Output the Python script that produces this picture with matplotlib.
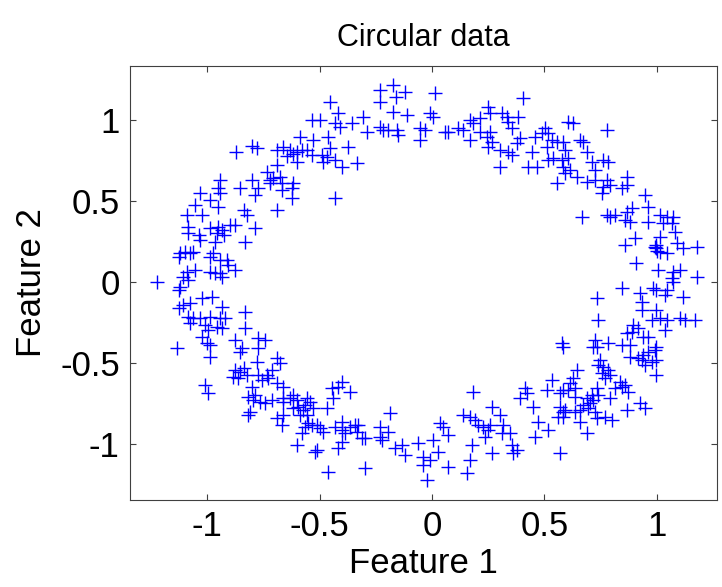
import matplotlib
matplotlib.use("Agg")
import matplotlib.pyplot as plt

plt.rcParams['font.family'] = ['Liberation Sans', 'DejaVu Sans']

pts = [
# upper-left
(-0.871,0.804),(-0.801,0.84),(-0.779,0.825),(-0.69,0.815),(-0.942,0.63),(-0.95,0.578),(-0.942,0.547),
(-0.853,0.578),(-0.801,0.63),(-0.772,0.578),(-0.787,0.537),(-0.735,0.681),(-0.72,0.63),(-0.705,0.64),
(-0.69,0.722),(-0.676,0.65),(-0.72,0.609),(-1.031,0.547),(-1.053,0.475),(-0.987,0.506),(-0.95,0.465),
(-0.838,0.444),(-0.69,0.444),(-0.668,0.609),(-0.668,0.567),
# top-left
(-0.231,1.185),(-0.172,1.216),(-0.12,1.175),(-0.231,1.113),(-0.16,1.14),(-0.453,1.113),(-0.416,1.041),
(-0.535,1.0),(-0.498,1.0),(-0.431,0.98),(-0.409,0.959),(-0.357,0.98),(-0.305,1.021),(-0.29,0.928),
(-0.231,0.959),(-0.217,0.938),(-0.172,1.051),(-0.113,1.031),(-0.053,0.949),(-0.053,0.876),(-0.157,0.938),
(-0.151,0.907),(-0.194,0.938),(-0.587,0.897),(-0.528,0.876),(-0.461,0.897),(-0.372,0.835),(-0.453,0.825),
(-0.49,0.784),(-0.468,0.774),(-0.483,0.743),(-0.431,0.753),(-0.401,0.712),(-0.335,0.733),(-0.557,0.815),
(-0.579,0.815),(-0.601,0.80),(-0.631,0.815),(-0.661,0.835),(-0.535,0.784),(-0.601,0.743),(-0.617,0.79),
(-0.646,0.78),(-0.616,0.609),(-0.624,0.579),(-0.624,0.517),(-0.431,0.517),
# top-right
(0.013,1.165),(0.406,1.134),(-0.009,1.041),(0.006,1.021),(-0.031,0.938),(0.058,0.928),(0.073,0.928),
(0.117,0.949),(0.139,0.938),(0.169,0.999),(0.184,0.98),(0.169,0.876),(0.213,1.01),(0.25,1.08),(0.258,1.04),
(0.213,0.928),(0.243,0.897),(0.258,0.928),(0.265,0.866),(0.25,0.835),(0.31,1.04),(0.332,1.021),(0.339,0.99),
(0.354,0.949),(0.384,1.021),(0.302,0.815),(0.339,0.805),(0.354,0.784),(0.302,0.712),(0.391,0.886),
(0.376,0.855),(0.443,0.804),(0.428,0.712),(0.465,0.712),(0.458,0.897),(0.488,0.917),(0.502,0.949),
(0.517,0.917),(0.532,0.876),(0.554,0.866),(0.51,0.835),(0.517,0.753),(0.539,0.764),(0.554,0.609),
# upper-right
(0.606,0.99),(0.628,0.98),(0.776,0.938),(0.658,0.876),(0.672,0.866),(0.583,0.866),(0.591,0.815),
(0.606,0.764),(0.687,0.804),(0.576,0.753),(0.583,0.712),(0.591,0.67),(0.613,0.691),(0.71,0.743),
(0.724,0.691),(0.761,0.753),(0.783,0.743),(0.643,0.65),(0.687,0.619),(0.724,0.63),(0.761,0.589),
(0.776,0.63),(0.791,0.598),(0.865,0.65),(0.843,0.578),(0.865,0.598),(0.754,0.547),(0.947,0.537),
(0.961,0.465),(0.888,0.455),
# left
(-1.09,0.414),(-1.024,0.414),(-0.824,0.414),(-1.083,0.341),(-1.083,0.3),(-1.038,0.29),(-1.031,0.259),
(-0.987,0.331),(-0.95,0.341),(-0.935,0.321),(-0.898,0.352),(-0.876,0.352),(-0.957,0.3),(-0.964,0.249),
(-0.927,0.29),(-0.787,0.331),(-0.831,0.249),(-1.12,0.177),(-1.098,0.187),(-1.076,0.177),(-1.061,0.187),
(-1.127,0.156),(-0.987,0.156),(-0.972,0.177),(-0.942,0.136),(-0.913,0.136),(-0.905,0.105),(-0.876,0.074),
(-1.09,0.064),(-1.053,0.074),(-1.105,0.033),(-1.083,0.012),(-1.12,-0.029),(-0.987,0.064),(-0.964,0.054),
(-0.942,0.054),(-0.935,0.033),(-1.224,0.002),(-1.127,-0.049),(-1.024,-0.101),(-0.979,-0.09),(-0.935,-0.152),
(-1.127,-0.162),(-1.105,-0.142),(-1.076,-0.132),(-1.083,-0.214),(-1.076,-0.255),(-1.061,-0.224),
(-1.031,-0.224),(-0.987,-0.214),(-0.942,-0.224),(-0.92,-0.224),(-1.009,-0.265),(-0.994,-0.296),
(-1.024,-0.338),(-1.001,-0.378),(-0.987,-0.389),(-0.957,-0.276),(-0.935,-0.286),(-0.831,-0.183),
(-0.831,-0.286),(-0.876,-0.358),(-0.772,-0.348),(-0.742,-0.358),(-1.135,-0.409),
# right
(0.665,0.403),(0.776,0.414),(0.791,0.403),(0.813,0.414),(0.858,0.383),(0.88,0.372),(0.865,0.434),
(0.961,0.372),(1.013,0.414),(1.043,0.403),(1.072,0.403),(1.028,0.362),(1.065,0.362),(1.08,0.31),
(1.087,0.239),(1.117,0.208),(1.176,0.218),(1.013,0.28),(0.998,0.208),(1.013,0.187),(1.043,0.177),
(0.902,0.27),(0.858,0.228),(0.909,0.115),(1.006,0.074),(1.072,0.064),(1.102,0.074),(1.065,0.023),
(1.072,0.002),(1.176,0.033),(0.843,-0.039),(0.924,-0.07),(0.984,-0.039),(0.998,-0.049),(1.043,-0.049),
(1.036,-0.08),(1.117,-0.09),(0.732,-0.101),(0.932,-0.121),(0.932,-0.173),(0.998,-0.173),(0.739,-0.235),
(0.976,-0.235),(1.013,-0.224),(1.043,-0.235),(1.036,-0.296),(1.102,-0.224),(1.124,-0.235),(1.169,-0.235),
(0.888,-0.306),(0.895,-0.265),(0.917,-0.286),(0.865,-0.317),(0.939,-0.338),(0.961,-0.338),(0.576,-0.378),
(0.724,-0.358),(0.783,-0.378),(0.732,-0.399),(0.843,-0.389),(0.88,-0.389),(0.998,-0.399),
(0.998,0.23),(1.0,0.19),(0.99,0.215),
# lower-left
(-0.987,-0.461),(-0.853,-0.43),(-0.846,-0.409),(-0.772,-0.409),(-0.779,-0.492),(-0.69,-0.471),
(-0.676,-0.502),(-0.876,-0.543),(-0.853,-0.553),(-0.838,-0.533),(-0.883,-0.585),(-0.861,-0.594),
(-0.824,-0.574),(-0.772,-0.574),(-0.735,-0.574),(-0.713,-0.543),(-0.757,-0.605),(-0.728,-0.594),
(-1.009,-0.636),(-0.994,-0.687),(-0.801,-0.646),(-0.787,-0.698),(-0.794,-0.728),(-0.816,-0.708),
(-0.765,-0.739),(-0.742,-0.749),(-0.713,-0.728),(-0.661,-0.739),(-0.809,-0.8),(-0.816,-0.821),
(-0.69,-0.625),(-0.69,-0.841),(-0.668,-0.882),(-0.661,-0.821),
# bottom-left
(-0.446,-0.656),(-0.416,-0.646),(-0.401,-0.615),(-0.364,-0.677),(-0.439,-0.718),(-0.661,-0.646),
(-0.661,-0.718),(-0.631,-0.718),(-0.616,-0.698),(-0.601,-0.728),(-0.557,-0.718),(-0.542,-0.739),
(-0.564,-0.758),(-0.616,-0.78),(-0.594,-0.77),(-0.572,-0.79),(-0.527,-0.78),(-0.468,-0.78),
(-0.587,-0.821),(-0.557,-0.821),(-0.55,-0.872),(-0.535,-0.882),(-0.513,-0.882),(-0.564,-0.893),
(-0.579,-0.934),(-0.498,-0.903),(-0.483,-0.924),(-0.431,-0.893),(-0.401,-0.862),(-0.401,-0.914),
(-0.387,-0.934),(-0.401,-0.986),(-0.416,-1.026),(-0.364,-0.893),(-0.342,-0.882),(-0.327,-0.882),
(-0.335,-0.924),(-0.313,-0.965),(-0.298,-0.965),(-0.231,-0.893),(-0.231,-0.955),(-0.224,-0.976),
(-0.194,-0.924),(-0.187,-0.81),(-0.601,-1.006),(-0.513,-1.037),(-0.52,-1.047),(-0.461,-1.171),
(-0.298,-1.15),(-0.164,-1.026),(-0.135,-1.006),(-0.12,-1.068),(-0.061,-0.996),(-0.039,-1.078),
(-0.039,-1.129),
# bottom-right
(0.584,-0.399),(0.532,-0.605),(0.51,-0.667),(0.569,-0.687),(0.413,-0.656),(0.391,-0.718),(0.45,-0.77),
(0.421,-0.687),(0.184,-0.677),(0.265,-0.77),(0.302,-0.821),(0.139,-0.821),(0.169,-0.831),(0.191,-0.852),
(0.206,-0.882),(0.228,-0.893),(0.25,-0.914),(0.258,-0.882),(0.317,-0.882),(0.31,-0.934),(0.347,-0.934),
(0.235,-0.955),(0.472,-0.862),(0.517,-0.914),(0.458,-0.955),(0.561,-0.831),(0.569,-0.77),(0.584,-0.8),
(0.036,-0.872),(0.05,-0.893),(0.006,-0.976),(0.073,-0.945),(0.176,-1.006),(0.169,-1.099),(0.265,-1.058),
(0.354,-1.006),(0.376,-1.037),(0.361,-1.058),(-0.009,-1.099),(0.028,-1.047),(0.073,-1.14),
(-0.024,-1.222),(0.154,-1.181),(0.569,-1.058),
# lower-right
(0.717,-0.399),(0.88,-0.461),(0.917,-0.471),(0.939,-0.451),(0.961,-0.43),(0.991,-0.42),(0.998,-0.482),
(0.976,-0.492),(0.998,-0.574),(0.947,-0.512),(0.932,-0.482),(0.747,-0.482),(0.761,-0.523),(0.739,-0.512),
(0.783,-0.543),(0.791,-0.574),(0.754,-0.564),(0.769,-0.594),(0.836,-0.615),(0.843,-0.646),(0.813,-0.656),
(0.858,-0.636),(0.872,-0.677),(0.643,-0.543),(0.628,-0.594),(0.613,-0.625),(0.636,-0.656),(0.606,-0.667),
(0.584,-0.667),(0.636,-0.708),(0.732,-0.656),(0.739,-0.698),(0.71,-0.698),(0.687,-0.718),(0.791,-0.718),
(0.717,-0.728),(0.702,-0.749),(0.672,-0.759),(0.658,-0.79),(0.636,-0.8),(0.695,-0.78),(0.724,-0.8),
(0.591,-0.79),(0.584,-0.831),(0.769,-0.831),(0.799,-0.852),(0.732,-0.841),(0.658,-0.862),(0.687,-0.934),
(0.865,-0.79),(0.924,-0.749),(0.947,-0.78),
]

feature1 = [p[0] for p in pts]
feature2 = [p[1] for p in pts]
xticks = [-1, -0.5, 0, 0.5, 1]
yticks = [-1, -0.5, 0, 0.5, 1]
xticklabels = ['-1', '-0.5', '0', '0.5', '1']
yticklabels = ['-1', '-0.5', '0', '0.5', '1']

fig = plt.figure(figsize=(7.22, 5.87), dpi=100)
ax = fig.add_axes([129.5/722, 1 - 500/587, (717 - 129.5)/722, (500 - 65.7)/587])
ax.plot(feature1, feature2, linestyle='none', marker='+', color='#0000ff',
        markersize=10.5, markeredgewidth=1.0)
ax.set_xlim(-1.345, 1.267)
ax.set_ylim(-1.346, 1.335)
ax.set_xticks(xticks)
ax.set_xticklabels(xticklabels)
ax.set_yticks(yticks)
ax.set_yticklabels(yticklabels)
ax.tick_params(direction='in', length=4.5, width=0.8, top=True, right=True,
               labelsize=25, colors='#404040', labelcolor='black', pad=7)
for s in ax.spines.values():
    s.set_color('#404040')
    s.set_linewidth(0.8)
ax.set_title('Circular data', fontsize=22, pad=14)
ax.set_xlabel('Feature 1', fontsize=25, labelpad=3)
ax.set_ylabel('Feature 2', fontsize=25, labelpad=9)
fig.savefig('out.png', dpi=100)
